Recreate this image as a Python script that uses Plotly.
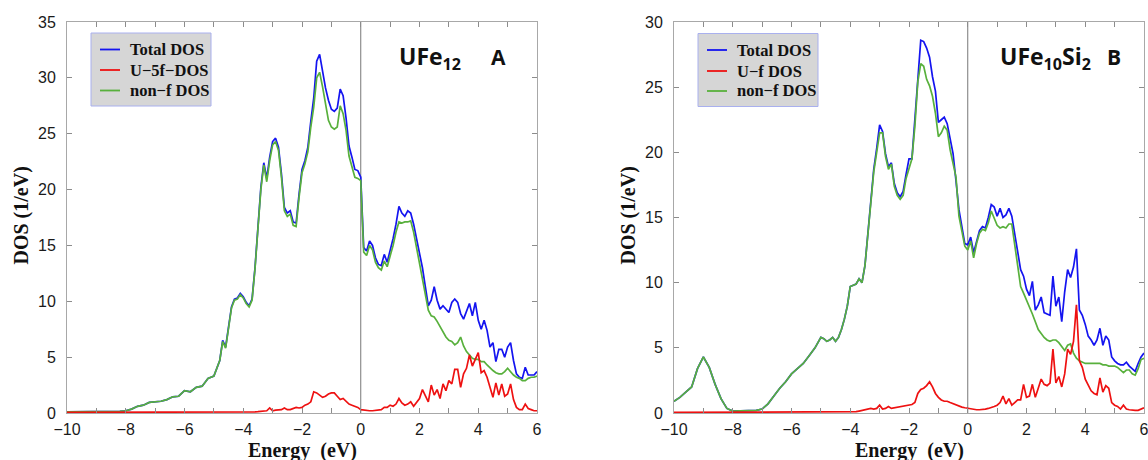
import plotly.graph_objects as go

# ---------------- data ----------------
# energy grid: coarse part (-10 .. -5.2, step 0.2) + fine part (-5.0 .. 6.0, step 0.1)
energy_lo = [-10.0, -9.8, -9.6, -9.4, -9.2, -9.0, -8.8, -8.6, -8.4, -8.2,
             -8.0, -7.8, -7.6, -7.4, -7.2, -7.0, -6.8, -6.6, -6.4, -6.2,
             -6.0, -5.8, -5.6, -5.4, -5.2]
energy_hi = [round(-5.0 + 0.1 * i, 1) for i in range(111)]
energy = energy_lo + energy_hi

# Panel A : UFe12
total_A = [0.1, 0.1, 0.1, 0.1, 0.1, 0.1, 0.1, 0.1, 0.15, 0.15,
           0.2, 0.35, 0.6, 0.7, 0.95, 1.0, 1.05, 1.2, 1.45, 1.5,
           2.0, 1.9, 2.3, 2.4, 3.1,
           3.3, 4.1, 4.7, 6.5, 5.9, 7.7, 9.5, 10.2, 10.3, 10.7,
           10.4, 9.9, 9.6, 10.2, 13.0, 16.6, 20.2, 22.4, 21.0, 22.9,
           24.3, 24.6, 23.8, 21.4, 18.4, 17.9, 18.1, 17.1, 17.0, 19.6,
           21.8, 22.6, 23.8, 26.1, 28.2, 31.5, 32.1, 30.6, 29.1, 28.0,
           27.2, 27.0, 27.3, 29.0, 28.4, 26.4, 23.9, 22.9, 21.8, 21.7,
           21.1, 14.8, 14.5, 15.4, 15.0, 13.9, 13.3, 13.2, 14.2, 13.5,
           14.5, 15.6, 16.9, 18.5, 17.9, 17.6, 18.1, 17.9, 16.9, 15.7,
           14.2, 13.0, 11.3, 9.6, 10.1, 11.3, 10.1, 9.3, 9.6, 9.3,
           9.0, 9.9, 10.2, 9.9, 8.9, 8.4, 9.2, 9.8, 8.7, 9.9,
           8.3, 7.5, 8.3, 7.4, 5.9, 6.3, 4.6, 5.7, 5.7, 5.0,
           5.9, 6.3, 4.7, 3.5, 3.2, 3.1, 4.1, 3.4, 3.4, 3.4,
           3.7]
uf_A = [0.05, 0.05, 0.05, 0.05, 0.05, 0.05, 0.05, 0.05, 0.05, 0.05,
        0.05, 0.05, 0.05, 0.05, 0.05, 0.05, 0.05, 0.05, 0.05, 0.05,
        0.05, 0.05, 0.05, 0.05, 0.05,
        0.05, 0.05, 0.05, 0.05, 0.05, 0.05, 0.05, 0.05, 0.05, 0.05,
        0.05, 0.05, 0.08, 0.1, 0.1, 0.12, 0.15, 0.2, 0.2, 0.45,
        0.2, 0.25, 0.25, 0.3, 0.45, 0.3, 0.3, 0.4, 0.5, 0.45,
        0.5, 0.7, 0.8, 1.0, 1.9, 1.8, 1.6, 1.4, 1.5, 1.7,
        1.8, 1.8, 1.5, 1.2, 1.3, 1.0, 0.8, 0.7, 0.6, 0.5,
        0.3, 0.25, 0.2, 0.2, 0.2, 0.25, 0.3, 0.3, 0.5, 0.5,
        0.7, 0.6, 0.8, 1.3, 0.9, 0.7, 0.8, 1.0, 0.6, 0.9,
        1.3, 2.1, 1.5, 1.0, 2.5, 1.6, 2.1, 1.3, 2.6, 2.0,
        2.9, 2.6, 3.9, 3.9, 2.3, 3.5, 4.0, 5.2, 4.2, 4.8,
        5.4, 3.6, 3.8, 3.2, 2.4, 1.4, 2.7, 1.6, 2.6, 1.5,
        1.7, 2.6, 1.2, 0.5, 0.3, 0.3, 0.8, 0.4, 0.3, 0.2,
        0.2]
nonf_A = [0.1, 0.1, 0.1, 0.1, 0.1, 0.1, 0.1, 0.1, 0.15, 0.15,
          0.2, 0.35, 0.6, 0.7, 0.95, 1.0, 1.05, 1.2, 1.45, 1.5,
          2.0, 1.9, 2.3, 2.4, 3.1,
          3.3, 4.1, 4.7, 6.4, 5.8, 7.6, 9.4, 10.1, 10.2, 10.6,
          10.3, 9.8, 9.5, 10.1, 12.9, 16.5, 20.0, 22.2, 20.7, 22.6,
          24.0, 24.3, 23.5, 21.1, 18.1, 17.6, 17.8, 16.8, 16.7, 19.3,
          21.5, 22.3, 23.4, 25.6, 27.4, 30.0, 30.5, 29.2, 27.5, 26.2,
          25.6, 25.4, 25.6, 27.5, 26.8, 25.3, 23.0, 22.0, 21.1, 21.0,
          20.8, 14.4, 14.1, 15.0, 14.6, 13.5, 13.0, 12.8, 13.6, 13.1,
          14.0, 15.0, 16.2, 17.1, 17.0, 17.1, 17.1, 17.2, 16.2, 14.8,
          13.5, 12.2, 10.5, 9.2, 8.7, 8.6, 8.2, 7.7, 7.3, 6.8,
          6.5, 6.4, 6.1, 6.3, 6.8, 6.0, 5.5, 5.2, 4.9, 4.8,
          4.8, 4.6, 4.6, 4.3, 4.0, 3.8, 3.6, 3.5, 3.5, 3.7,
          4.0, 3.7, 3.4, 3.2, 3.1, 2.9, 2.9, 3.1, 3.2, 3.2,
          3.3]

# Panel B : UFe10Si2
total_B = [0.9, 1.2, 1.6, 2.0, 3.4, 4.3, 3.5, 2.2, 1.1, 0.35,
           0.15, 0.15, 0.15, 0.15, 0.2, 0.3, 0.7, 1.3, 1.9, 2.4,
           3.0, 3.4, 3.8, 4.4, 5.0,
           5.8, 5.7, 5.5, 5.6, 5.8, 5.5, 5.8, 6.4, 7.2, 8.2,
           9.7, 9.8, 9.9, 10.3, 10.0, 11.3, 13.9, 16.5, 18.7, 20.3,
           22.1, 21.6, 19.9, 18.9, 19.2, 17.6, 16.9, 16.6, 17.0, 18.3,
           19.5, 19.5, 22.5, 26.0, 28.6, 28.5, 28.0, 27.3, 25.8, 24.7,
           22.3, 22.5, 22.7, 22.2, 21.0, 19.9, 17.8, 15.6, 14.3, 13.0,
           12.9, 13.5, 12.3, 13.2, 14.0, 14.3, 14.2, 15.0, 16.0, 15.8,
           15.1, 15.7, 15.0, 15.2, 15.7, 15.1, 13.8, 12.3, 11.0, 10.5,
           9.5, 9.0, 10.1, 7.9, 8.3, 8.9, 7.7, 7.6, 7.5, 10.5,
           8.2, 8.9, 7.0, 9.3, 11.0, 10.4, 11.2, 12.6, 7.9, 7.5,
           6.8, 5.9, 5.6, 5.2, 5.6, 6.5, 5.2, 5.9, 5.6, 4.3,
           4.0, 3.8, 3.7, 3.7, 3.9, 3.6, 3.4, 3.2, 3.8, 4.3,
           4.6]
uf_B = [0.05, 0.05, 0.05, 0.05, 0.05, 0.05, 0.05, 0.05, 0.05, 0.05,
        0.05, 0.05, 0.05, 0.05, 0.05, 0.05, 0.05, 0.05, 0.05, 0.05,
        0.05, 0.05, 0.05, 0.05, 0.05,
        0.05, 0.05, 0.05, 0.05, 0.05, 0.05, 0.05, 0.05, 0.05, 0.06,
        0.08, 0.1, 0.1, 0.15, 0.2, 0.25, 0.3, 0.35, 0.3, 0.35,
        0.6, 0.3, 0.35, 0.5, 0.35, 0.4, 0.45, 0.5, 0.5, 0.55,
        0.6, 0.65, 0.8, 1.5, 1.8, 1.9, 2.1, 2.4, 2.0, 1.5,
        1.2, 1.0, 0.9, 0.9, 0.8, 0.7, 0.6, 0.55, 0.45, 0.4,
        0.35, 0.35, 0.3, 0.25, 0.25, 0.25, 0.3, 0.35, 0.4, 0.5,
        0.6, 0.8, 1.3, 0.7, 1.1, 0.6, 0.8, 1.0, 1.0, 2.2,
        1.2, 1.3, 2.2, 1.2, 1.9, 2.6, 2.2, 2.1, 2.3, 4.9,
        2.3, 2.8, 2.0, 3.0, 4.9, 4.5, 5.5, 8.3, 4.0, 3.5,
        2.6, 2.1, 1.7, 1.5, 1.4, 2.7, 1.6, 2.1, 1.9, 0.8,
        0.6, 0.5, 0.3, 0.6, 0.3, 0.25, 0.2, 0.2, 0.2, 0.3,
        0.4]
nonf_B = [0.9, 1.2, 1.6, 2.0, 3.4, 4.3, 3.5, 2.2, 1.1, 0.35,
          0.15, 0.15, 0.15, 0.15, 0.2, 0.3, 0.7, 1.3, 1.9, 2.4,
          3.0, 3.4, 3.8, 4.4, 5.0,
          5.8, 5.7, 5.5, 5.6, 5.8, 5.5, 5.8, 6.4, 7.2, 8.2,
          9.7, 9.8, 9.9, 10.3, 10.0, 11.3, 13.9, 16.4, 18.5, 20.0,
          21.5, 21.5, 19.7, 18.7, 19.1, 17.4, 16.7, 16.4, 16.7, 18.0,
          18.8, 19.5, 22.0, 25.4, 26.8, 26.6, 25.6, 25.1, 24.3, 23.0,
          21.2, 21.5, 22.0, 21.7, 20.2, 19.2, 18.1, 15.1, 13.8, 12.8,
          12.5, 13.2, 11.9, 13.0, 13.8, 14.1, 14.0, 14.6, 15.5, 15.0,
          14.4, 14.2, 14.3, 14.2, 14.5, 14.5, 12.8, 11.5, 9.7, 9.2,
          8.7, 8.2, 7.6, 7.0, 6.4, 6.1, 5.8, 5.6, 5.5, 5.6,
          5.6, 5.4, 5.1, 4.8, 5.2, 5.3, 4.6, 4.2, 4.0, 3.9,
          3.8, 3.8, 3.8, 3.8, 3.8, 3.8, 3.7, 3.7, 3.6, 3.6,
          3.6, 3.5, 3.3, 3.1, 3.3, 3.3, 3.0, 2.9, 3.4, 4.1,
          4.2]

x_tickvals = [-10, -8, -6, -4, -2, 0, 2, 4, 6]
x_ticktext = ["\u221210", "\u22128", "\u22126", "\u22124", "\u22122", "0", "2", "4", "6"]
yA_tickvals = [0, 5, 10, 15, 20, 25, 30, 35]
yB_tickvals = [0, 5, 10, 15, 20, 25, 30]

legend_A = ["Total DOS", "U\u22125f\u2212DOS", "non\u2212f DOS"]
legend_B = ["Total DOS", "U\u2212f DOS", "non\u2212f DOS"]

# ---------------- styling ----------------
W, H = 1148, 460
OFF = 0   # page body margin is removed in the written page (see post_script)
BLUE, RED, GREEN = "#1414f0", "#ee1111", "#58b03c"
LW = 1.7
FRAME = "#a8a8a8"
TICKFONT = dict(family="Liberation Sans, Arial, sans-serif", size=16, color="#1a1a1a")
SERIF = "Liberation Serif, Times New Roman, serif"


def px_x(p):
    """window pixel -> paper fraction"""
    return (p - OFF) / W


def px_y(p):
    return 1 - (p - OFF) / H


fig = go.Figure()

panels = [
    ("x", "y", legend_A, total_A, uf_A, nonf_A),
    ("x2", "y2", legend_B, total_B, uf_B, nonf_B),
]
for xa, ya, names, tot, uf, nf in panels:
    fig.add_trace(go.Scatter(x=energy, y=tot, mode="lines", name=names[0],
                             line=dict(color=BLUE, width=LW), xaxis=xa, yaxis=ya,
                             showlegend=False))
    fig.add_trace(go.Scatter(x=energy, y=nf, mode="lines", name=names[2],
                             line=dict(color=GREEN, width=LW), xaxis=xa, yaxis=ya,
                             showlegend=False))
    fig.add_trace(go.Scatter(x=energy, y=uf, mode="lines", name=names[1],
                             line=dict(color=RED, width=LW), xaxis=xa, yaxis=ya,
                             showlegend=False))

xcommon = dict(range=[-10, 6], tickmode="array", tickvals=x_tickvals, ticktext=x_ticktext,
               ticks="inside", ticklen=5, tickwidth=1, tickcolor="#8c8c8c",
               minor=dict(dtick=1, tick0=0, ticks="inside", ticklen=5, tickwidth=1,
                          tickcolor="#8c8c8c", showgrid=False),
               showline=True, linecolor=FRAME, linewidth=1, mirror="ticks",
               showgrid=False, zeroline=False, tickfont=TICKFONT, fixedrange=True,
               automargin=False, ticklabelstandoff=2, ticklabeloverflow="allow")
ycommon = dict(tickmode="array", ticks="inside", ticklen=5, tickwidth=1, tickcolor="#8c8c8c",
               showline=True, linecolor=FRAME, linewidth=1, mirror="ticks",
               showgrid=False, zeroline=False, tickfont=TICKFONT, fixedrange=True,
               automargin=False, ticklabelstandoff=7, ticklabeloverflow="allow")

dom_y = [px_y(413), px_y(22)]
fig.update_layout(
    width=W, height=H,
    margin=dict(l=0, r=0, t=0, b=0, pad=0, autoexpand=False),
    paper_bgcolor="white", plot_bgcolor="white",
    xaxis=dict(domain=[px_x(67), px_x(537)], anchor="y", **xcommon),
    yaxis=dict(domain=dom_y, anchor="x", range=[0, 35], tickvals=yA_tickvals, **ycommon),
    xaxis2=dict(domain=[px_x(674), px_x(1144)], anchor="y2", **xcommon),
    yaxis2=dict(domain=dom_y, anchor="x2", range=[0, 30], tickvals=yB_tickvals, **ycommon),
    showlegend=False,
    hovermode=False,
)

# Fermi level lines
for xa, ya in (("x", "y"), ("x2", "y2")):
    fig.add_shape(type="line", x0=0, x1=0, y0=0, y1=1, xref=xa, yref=f"{ya} domain",
                  line=dict(color="#777777", width=1), layer="below")

# legends (box, line samples, labels)
LEGFONT = dict(family=SERIF, size=16.5, color="#111", weight="bold")
colors = [BLUE, RED, GREEN]
for (bx0, bx1, by0, by1, lx0, lx1, tx, rows, names) in (
        (91, 211, 33, 106, 100, 120, 128, (49.5, 70, 90.5), legend_A),
        (698, 818, 33.5, 106.5, 707, 727, 735, (50, 71, 91), legend_B)):
    fig.add_shape(type="rect", xref="paper", yref="paper",
                  x0=px_x(bx0), x1=px_x(bx1), y0=px_y(by1), y1=px_y(by0),
                  fillcolor="#d6d6d6", line=dict(color="#a9b0ee", width=1))
    for ry, col, name in zip(rows, colors, names):
        fig.add_shape(type="line", xref="paper", yref="paper",
                      x0=px_x(lx0), x1=px_x(lx1), y0=px_y(ry), y1=px_y(ry),
                      line=dict(color=col, width=1.8))
        fig.add_annotation(text=name, x=px_x(tx), y=px_y(ry), xref="paper", yref="paper",
                           showarrow=False, xanchor="left", yanchor="middle", font=LEGFONT)

# axis titles
TITLEFONT = dict(family=SERIF, size=20, color="#111", weight="bold")
for cx in (302, 909):
    fig.add_annotation(text="Energy  (eV)", x=px_x(cx), y=px_y(450.5), xref="paper", yref="paper",
                       showarrow=False, xanchor="center", yanchor="middle", font=TITLEFONT)
for cx in (21.5, 628.5):
    fig.add_annotation(text="DOS (1/eV)", x=px_x(cx), y=px_y(216), xref="paper", yref="paper",
                       showarrow=False, xanchor="center", yanchor="middle", textangle=-90,
                       font=TITLEFONT)

# panel labels
TFONT = dict(family="Open Sans, Noto Sans, sans-serif", size=23, color="#111", weight="bold")
LFONT = dict(family="Open Sans, Noto Sans, sans-serif", size=21, color="#111", weight="bold")
fig.add_annotation(text="UFe<sub>12</sub>", x=px_x(397), y=px_y(58), xref="paper", yref="paper",
                   showarrow=False, xanchor="left", yanchor="middle", font=TFONT)
fig.add_annotation(text="A", x=px_x(498.5), y=px_y(56.5), xref="paper", yref="paper",
                   showarrow=False, xanchor="center", yanchor="middle", font=LFONT)
fig.add_annotation(text="UFe<sub>10</sub>Si<sub>2</sub>", x=px_x(998), y=px_y(58), xref="paper",
                   yref="paper", showarrow=False, xanchor="left", yanchor="middle", font=TFONT)
fig.add_annotation(text="B", x=px_x(1113.5), y=px_y(56.5), xref="paper", yref="paper",
                   showarrow=False, xanchor="center", yanchor="middle", font=LFONT)

fig.write_html(
    "out.html",
    config={"displayModeBar": False, "staticPlot": True},
    post_script="document.body.style.margin='0';document.body.style.overflow='hidden';",
)
